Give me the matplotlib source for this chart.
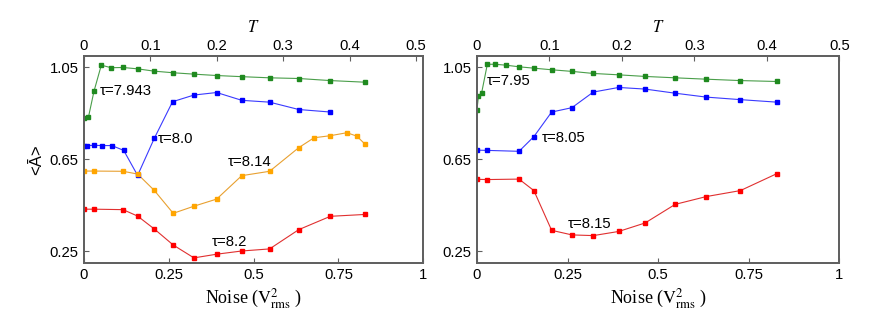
import matplotlib
matplotlib.use("Agg")
import matplotlib.pyplot as plt

plt.rcParams['mathtext.fontset'] = 'stix'
plt.rcParams['font.family'] = ['Liberation Sans', 'DejaVu Sans']

# ---------------- data (left panel) ----------------
L_green_x = [0, 0.013, 0.0295, 0.051, 0.080, 0.115, 0.158, 0.207, 0.263, 0.324, 0.391, 0.465, 0.547, 0.633, 0.726, 0.827]
L_green_y = [0.831, 0.833, 0.947, 1.060, 1.049, 1.050, 1.044, 1.034, 1.027, 1.021, 1.015, 1.010, 1.005, 1.002, 0.993, 0.986]

L_blue_x = [0, 0.010, 0.030, 0.053, 0.082, 0.117, 0.158, 0.207, 0.261, 0.324, 0.391, 0.465, 0.547, 0.633, 0.726]
L_blue_y = [0.710, 0.710, 0.711, 0.710, 0.710, 0.689, 0.580, 0.741, 0.901, 0.930, 0.941, 0.907, 0.899, 0.867, 0.856]

L_orange_x = [0, 0.0295, 0.115, 0.158, 0.207, 0.263, 0.324, 0.391, 0.465, 0.547, 0.633, 0.678, 0.726, 0.775, 0.804, 0.827]
L_orange_y = [0.599, 0.599, 0.598, 0.586, 0.515, 0.415, 0.446, 0.477, 0.579, 0.598, 0.701, 0.744, 0.753, 0.766, 0.751, 0.718]

L_red_x = [0, 0.0295, 0.115, 0.158, 0.207, 0.263, 0.324, 0.391, 0.465, 0.547, 0.633, 0.726, 0.827]
L_red_y = [0.433, 0.433, 0.431, 0.403, 0.347, 0.277, 0.221, 0.237, 0.251, 0.260, 0.344, 0.402, 0.410]

# ---------------- data (right panel) ----------------
R_green_x = [0, 0.004, 0.013, 0.0285, 0.050, 0.080, 0.116, 0.157, 0.206, 0.262, 0.321, 0.391, 0.464, 0.547, 0.633, 0.727, 0.828]
R_green_y = [0.867, 0.925, 0.941, 1.064, 1.064, 1.060, 1.053, 1.047, 1.040, 1.033, 1.024, 1.018, 1.011, 1.005, 0.999, 0.993, 0.989]

R_blue_x = [0, 0.0285, 0.116, 0.157, 0.206, 0.262, 0.321, 0.391, 0.464, 0.547, 0.633, 0.727, 0.828]
R_blue_y = [0.690, 0.689, 0.685, 0.749, 0.856, 0.875, 0.943, 0.963, 0.956, 0.938, 0.921, 0.910, 0.899]

R_red_x = [0, 0.0285, 0.116, 0.157, 0.206, 0.262, 0.321, 0.391, 0.464, 0.547, 0.633, 0.727, 0.828]
R_red_y = [0.563, 0.562, 0.564, 0.514, 0.341, 0.321, 0.318, 0.336, 0.373, 0.454, 0.488, 0.514, 0.588]

x_ticks = [0, 0.25, 0.5, 0.75, 1]
x_ticklabels = ["0", "0.25", "0.5", "0.75", "1"]
y_ticks = [0.25, 0.65, 1.05]
y_ticklabels = ["0.25", "0.65", "1.05"]
t_ticks = [0, 0.1, 0.2, 0.3, 0.4, 0.5]
t_ticklabels = ["0", "0.1", "0.2", "0.3", "0.4", "0.5"]

GREEN = '#1f8a1f'
BLUE = '#0000ff'
ORANGE = '#ffa500'
RED = '#ff0000'
SPINE = '#606060'

W, H = 872, 327
fig = plt.figure(figsize=(W / 100, H / 100), dpi=100)

def make_axes(left_px, right_px, top_xmax):
    top_px, bot_px = 56, 262.7
    ax = fig.add_axes([left_px / W, 1 - bot_px / H, (right_px - left_px) / W, (bot_px - top_px) / H])
    ax.set_xlim(0, 1)
    ax.set_ylim(0.2, 1.1)
    ax.set_xticks(x_ticks)
    ax.set_xticklabels(x_ticklabels)
    ax.set_yticks(y_ticks)
    ax.set_yticklabels(y_ticklabels)
    ax.tick_params(direction='in', length=3.5, width=0.8, color=SPINE, labelsize=10.7, pad=4)
    ax.tick_params(axis='y', right=False)
    for s in ax.spines.values():
        s.set_color(SPINE)
        s.set_linewidth(1.3)
    ax.set_xlabel(r'Noise ($\mathrm{V}^{2}_{\mathrm{rms}}$ )', fontsize=13,
                  family='Liberation Serif', labelpad=3)
    top = ax.twiny()
    top.set_xlim(0, top_xmax)
    top.set_xticks(t_ticks)
    top.set_xticklabels(t_ticklabels)
    top.tick_params(direction='in', length=3.5, width=0.8, color=SPINE, labelsize=10.7, pad=2)
    for s in top.spines.values():
        s.set_color(SPINE)
        s.set_linewidth(1.3)
    top.set_xlabel(r'$T$', fontsize=12, labelpad=5)
    return ax

def series(ax, x, y, c, lc=None):
    ax.plot(x, y, '-', color=lc or c, lw=0.8, zorder=2)
    ax.plot(x, y, 's', color=c, ms=3.4, mec=c, zorder=3)

axL = make_axes(84, 423.3, 0.511)
series(axL, L_green_x, L_green_y, GREEN, '#4a9e4a')
series(axL, L_blue_x, L_blue_y, BLUE, '#3a3aff')
series(axL, L_orange_x, L_orange_y, ORANGE, '#e8a030')
series(axL, L_red_x, L_red_y, RED, '#e03030')
tfs = 10.7
axL.text(0.047, 0.946, 'τ=7.943', fontsize=tfs, va='center', ha='left')
axL.text(0.218, 0.737, 'τ=8.0', fontsize=tfs, va='center', ha='left')
axL.text(0.425, 0.637, 'τ=8.14', fontsize=tfs, va='center', ha='left')
axL.text(0.378, 0.290, 'τ=8.2', fontsize=tfs, va='center', ha='left')
axL.set_ylabel('<Ā>', fontsize=12, labelpad=4)

axR = make_axes(477, 839.3, 0.5)
series(axR, R_green_x, R_green_y, GREEN, '#4a9e4a')
series(axR, R_blue_x, R_blue_y, BLUE, '#3a3aff')
series(axR, R_red_x, R_red_y, RED, '#e03030')
axR.text(0.027, 0.993, 'τ=7.95', fontsize=tfs, va='center', ha='left')
axR.text(0.179, 0.744, 'τ=8.05', fontsize=tfs, va='center', ha='left')
axR.text(0.25, 0.367, 'τ=8.15', fontsize=tfs, va='center', ha='left')

fig.savefig('out.png', dpi=100)
